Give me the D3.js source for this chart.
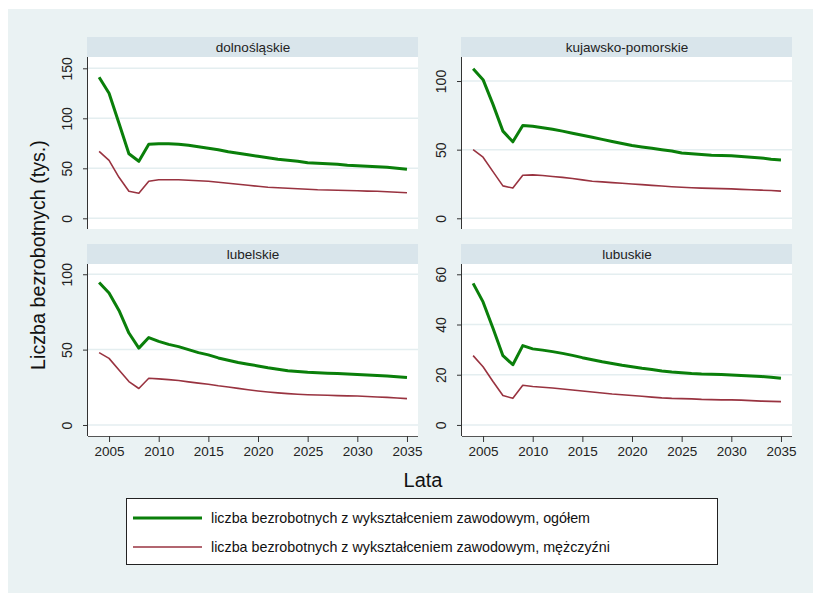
<!DOCTYPE html>
<html><head><meta charset="utf-8">
<script src="https://cdn.jsdelivr.net/npm/d3@7/dist/d3.min.js"></script>
<style>body{margin:0;background:#fff}svg{display:block;font-family:"Liberation Sans",Arial,sans-serif}</style>
</head><body><svg id="c" width="813" height="593"></svg>
<script>
const years = [2004,2005,2006,2007,2008,2009,2010,2011,2012,2013,2014,2015,2016,2017,2018,2019,2020,2021,2022,2023,2024,2025,2026,2027,2028,2029,2030,2031,2032,2033,2034,2035];
const regions = ["dolnośląskie","kujawsko-pomorskie","lubelskie","lubuskie"];
const seriesNames = ["liczba bezrobotnych z wykształceniem zawodowym, ogółem","liczba bezrobotnych z wykształceniem zawodowym, mężczyźni"];
const xTicks = [2005,2010,2015,2020,2025,2030,2035];

const dolnoOgolem = [141,125,95,64.5,57,74,74.5,74.5,74,73,71.5,70,68.5,66.5,65,63.5,62,60.5,59,58,57,55.5,55,54.5,54,53,52.5,52,51.5,51,50,49];
const dolnoMezczyzni = [67,58,41,27,25,37,38.5,38.5,38.5,38,37.5,37,36,35,34,33,32,31,30.5,30,29.5,29,28.5,28.3,28,27.8,27.5,27.2,27,26.5,26,25.5];
const kujOgolem = [109,101,83,63.5,55.7,67.6,67,66,64.8,63.5,62,60.5,59,57.5,56,54.5,53,52,51,50,49,47.5,47,46.5,46,45.8,45.5,45,44.5,44,43,42.5];
const kujMezczyzni = [50,44.5,34,23.6,22,31.4,31.6,31.2,30.5,29.8,29,28,27,26.5,26,25.5,25,24.5,24,23.5,23,22.6,22.3,22,21.8,21.6,21.4,21.1,20.8,20.5,20.2,19.8];
const lubelOgolem = [94.5,87.5,76,61,51,58,55.5,53.5,52,50,48,46.5,44.5,43,41.5,40.3,39.2,38,37,36,35.5,35,34.7,34.4,34.1,33.8,33.5,33.2,32.8,32.5,32,31.5];
const lubelMezczyzni = [48,44.2,36.5,28.8,24.2,31,30.6,30.1,29.5,28.6,27.8,27,26,25.2,24.3,23.4,22.6,21.9,21.3,20.8,20.4,20.1,19.9,19.7,19.5,19.3,19.2,18.9,18.6,18.3,17.9,17.5];
const lubusOgolem = [56.4,49,38.5,27.6,24,31.6,30.3,29.8,29.2,28.5,27.7,26.8,26,25.2,24.5,23.8,23.2,22.6,22.1,21.5,21.1,20.8,20.5,20.3,20.2,20.1,19.9,19.7,19.5,19.3,19,18.6];
const lubusMezczyzni = [27.6,23.2,17.3,11.7,10.6,15.8,15.3,15,14.7,14.3,13.9,13.5,13.1,12.7,12.3,12,11.7,11.4,11.1,10.8,10.6,10.5,10.4,10.2,10.1,10,10,9.9,9.7,9.5,9.4,9.3];

const yTicksDolno = [0,50,100,150];
const yTicksKuj = [0,50,100];
const yTicksLubel = [0,50,100];
const yTicksLubus = [0,20,40,60];

const panels = [
  {name:regions[0], g:dolnoOgolem, r:dolnoMezczyzni, ticks:yTicksDolno, dom:[-10.7,161.3], x:88, y:57, xAxis:false},
  {name:regions[1], g:kujOgolem, r:kujMezczyzni, ticks:yTicksKuj, dom:[-7.8,117.5], x:462, y:57, xAxis:false},
  {name:regions[2], g:lubelOgolem, r:lubelMezczyzni, ticks:yTicksLubel, dom:[-7.3,106.8], x:88, y:264, xAxis:true},
  {name:regions[3], g:lubusOgolem, r:lubusMezczyzni, ticks:yTicksLubus, dom:[-4.4,64.1], x:462, y:264, xAxis:true}
];
const PW = 330, PH = 172, HH = 20;
const green = "#0a7f0a", red = "#993340";
const svg = d3.select("#c");
svg.append("rect").attr("x",8).attr("y",9).attr("width",805).attr("height",584).attr("fill","#eaf2f3");

panels.forEach(p => {
  const g = svg.append("g").attr("transform",`translate(${p.x},${p.y})`);
  const x = d3.scaleLinear().domain([2002.88,2036.11]).range([0,PW]);
  const y = d3.scaleLinear().domain(p.dom).range([PH,0]);
  // header
  g.append("rect").attr("x",-1).attr("y",-HH).attr("width",PW+1).attr("height",HH).attr("fill","#d9e5eb");
  g.append("text").attr("x",PW/2).attr("y",-HH/2+4.5).attr("text-anchor","middle").attr("font-size",13.5).attr("fill","#222").text(p.name);
  g.append("rect").attr("width",PW).attr("height",PH).attr("fill","#fff");
  // grid
  g.selectAll(".grid").data(p.ticks).join("line").attr("x1",0).attr("x2",PW)
    .attr("y1",d=>y(d)).attr("y2",d=>y(d)).attr("stroke","#e4eef0").attr("stroke-width",1.5);
  // y axis
  const ya = g.append("g").call(d3.axisLeft(y).tickValues(p.ticks).tickSize(5).tickPadding(0).tickFormat(d3.format("d")));
  ya.select(".domain").attr("stroke","#333").attr("d",`M-0.5,0V${PH}`);
  ya.selectAll(".tick line").attr("stroke","#333");
  ya.selectAll(".tick text").attr("transform","rotate(-90)").attr("text-anchor","middle")
    .attr("x",0).attr("y",-16).attr("dy",0).attr("font-size",14).attr("fill","#222");
  if (p.xAxis) {
    const xa = g.append("g").attr("transform",`translate(0,${PH})`)
      .call(d3.axisBottom(x).tickValues(xTicks).tickSize(6).tickPadding(4).tickFormat(d3.format("d")));
    xa.select(".domain").attr("stroke","#555").attr("d",`M0,0.5H${PW}`);
    xa.selectAll(".tick line").attr("stroke","#333");
    xa.selectAll(".tick text").attr("font-size",13.5).attr("fill","#222");
  }
  const line = d3.line().x((d,i)=>x(years[i])).y(d=>y(d));
  g.append("path").datum(p.r).attr("d",line).attr("fill","none").attr("stroke",red).attr("stroke-width",1.6).attr("stroke-linejoin","round");
  g.append("path").datum(p.g).attr("d",line).attr("fill","none").attr("stroke",green).attr("stroke-width",3).attr("stroke-linejoin","round");
});

svg.append("text").attr("x",423).attr("y",487).attr("text-anchor","middle").attr("font-size",20).attr("fill","#111").text("Lata");
svg.append("text").attr("transform","translate(45,255) rotate(-90)").attr("text-anchor","middle").attr("font-size",19.7).attr("fill","#111").text("Liczba bezrobotnych (tys.)");

const lg = svg.append("g");
lg.append("rect").attr("x",126.5).attr("y",498.5).attr("width",591).attr("height",66).attr("fill","#fff").attr("stroke","#222").attr("stroke-width",1);
[green, red].forEach((c,i)=>{
  const yy = 518 + i*29;
  lg.append("line").attr("x1",133).attr("x2",202).attr("y1",yy).attr("y2",yy).attr("stroke",c).attr("stroke-width",i===0?3:1.6);
  lg.append("text").attr("x",211).attr("y",yy+5).attr("font-size",14.3).attr("fill","#111").text(seriesNames[i]);
});
</script></body></html>
